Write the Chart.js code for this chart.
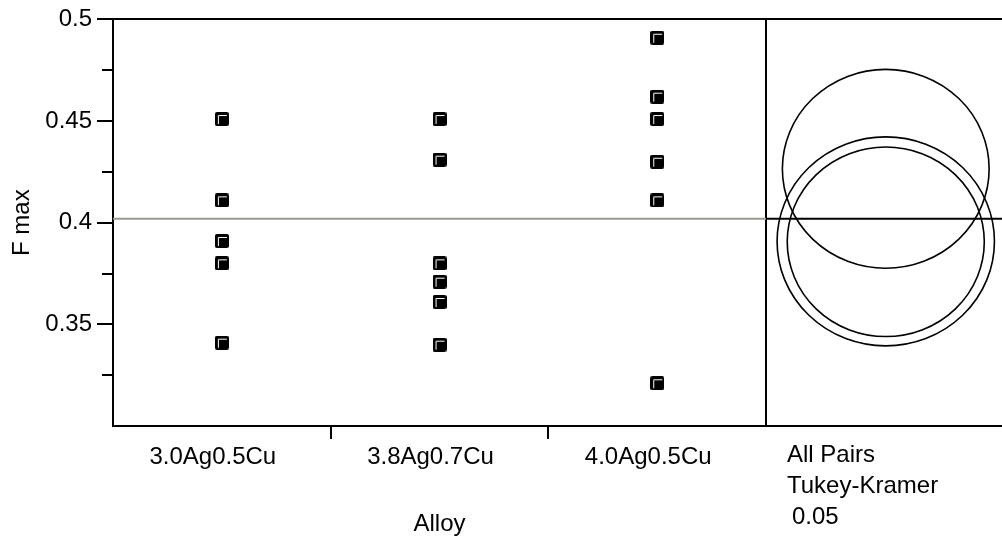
<!DOCTYPE html>
<html>
<head>
<meta charset="utf-8">
<script src="https://cdn.jsdelivr.net/npm/chart.js@4/dist/chart.umd.min.js"></script>
<style>
  html, body { margin: 0; padding: 0; background: #fff; }
  canvas { display: block; }
</style>
</head>
<body>
<canvas id="chart" width="1002" height="542"></canvas>
<script>
// values
const alloys = ["3.0Ag0.5Cu", "3.8Ag0.7Cu", "4.0Ag0.5Cu"];
const fmax30 = [0.451, 0.411, 0.391, 0.380, 0.341];
const fmax38 = [0.451, 0.431, 0.380, 0.371, 0.361, 0.340];
const fmax40 = [0.491, 0.462, 0.451, 0.430, 0.411, 0.321];
const grandMean = 0.402;

// comparison circles (center and radius in F max units)
const circleCenters = [0.3908, 0.3906, 0.4265];
const circleRadii = [0.0514, 0.0466, 0.0489];

const yMajorTicks = [0.35, 0.4, 0.45, 0.5];
const yMinorTicks = [0.325, 0.375, 0.425, 0.475];
const xTicks = [0.5, 1, 1.5, 2, 2.5, 3];
const panelNotes = ["All Pairs", "Tukey-Kramer", "0.05"];

const FONT = "'Liberation Sans', Arial, sans-serif";
const X_MAX = 4.084;  // right edge of the circle panel
const CIRCLE_X = 3.55;

// black square marker with a white inner corner
function makeMarker() {
  const c = document.createElement("canvas");
  c.width = 14;
  c.height = 14;
  const g = c.getContext("2d");
  g.fillStyle = "#000";
  g.beginPath();
  g.roundRect(0, 0, 14, 14, 2);
  g.fill();
  g.strokeStyle = "#fff";
  g.lineWidth = 1;
  g.beginPath();
  g.moveTo(3.5, 12);
  g.lineTo(3.5, 3.5);
  g.lineTo(12, 3.5);
  g.stroke();
  return c;
}
const marker = makeMarker();

function points(values, idx) {
  return values.map((v) => ({ x: idx + 0.5, y: v }));
}

const extras = {
  id: "extras",
  afterDatasetsDraw(chart) {
    const ctx = chart.ctx;
    const xs = chart.scales.x;
    const ys = chart.scales.y;
    ctx.save();
    // comparison circles
    ctx.strokeStyle = "#000";
    ctx.lineWidth = 1.6;
    circleCenters.forEach((c, i) => {
      const cy = ys.getPixelForValue(c);
      const ry = Math.abs(ys.getPixelForValue(c + circleRadii[i]) - cy);
      ctx.beginPath();
      ctx.ellipse(xs.getPixelForValue(CIRCLE_X), cy, ry * 1.04, ry, 0, 0, Math.PI * 2);
      ctx.stroke();
    });
    // minor y ticks
    ctx.lineWidth = 2;
    yMinorTicks.forEach((v) => {
      const y = Math.round(ys.getPixelForValue(v));
      ctx.beginPath();
      ctx.moveTo(ys.right - 11, y);
      ctx.lineTo(ys.right, y);
      ctx.stroke();
    });
    // texts
    ctx.fillStyle = "#000";
    ctx.font = "24px " + FONT;
    ctx.textBaseline = "alphabetic";
    ctx.textAlign = "left";
    ctx.fillText(panelNotes[0], 787, 462);
    ctx.fillText(panelNotes[1], 787, 493);
    ctx.fillText(panelNotes[2], 792, 524);
    ctx.textAlign = "center";
    ctx.fillText("Alloy", (xs.getPixelForValue(0) + xs.getPixelForValue(3)) / 2, 531);
    ctx.restore();
  },
};

new Chart(document.getElementById("chart"), {
  type: "scatter",
  data: {
    datasets: [
      { data: points(fmax30, 0) },
      { data: points(fmax38, 1) },
      { data: points(fmax40, 2) },
      {
        type: "line",
        data: [{ x: 0, y: grandMean }, { x: 3, y: grandMean }],
        borderColor: "#9a9890",
        borderWidth: 2,
        pointRadius: 0,
      },
      {
        type: "line",
        data: [{ x: 3, y: grandMean }, { x: X_MAX, y: grandMean }],
        borderColor: "#000",
        borderWidth: 2,
        pointRadius: 0,
      },
    ],
  },
  options: {
    responsive: false,
    devicePixelRatio: 1,
    animation: false,
    layout: { autoPadding: false, padding: { top: 18, right: 0, bottom: 0, left: 0 } },
    elements: {
      point: { pointStyle: marker, radius: 7, hoverRadius: 7 },
    },
    plugins: {
      legend: { display: false },
      tooltip: { enabled: false },
    },
    scales: {
      x: {
        type: "linear",
        min: 0,
        max: X_MAX,
        afterBuildTicks: (s) => {
          s.ticks = xTicks.map((v) => ({ value: v }));
        },
        afterFit: (s) => {
          s.height = 116;
          s.paddingLeft = 0;
          s.paddingRight = 0;
        },
        ticks: {
          autoSkip: false,
          maxRotation: 0,
          padding: 4,
          labelOffset: -9,
          color: "#000",
          font: { family: FONT, size: 24 },
          callback: (v) => (v % 1 === 0.5 ? alloys[Math.floor(v)] : ""),
        },
        grid: {
          drawOnChartArea: true,
          drawTicks: true,
          tickLength: 13,
          lineWidth: 2,
          color: (c) => (c.tick && c.tick.value === 3 ? "#000" : "rgba(0,0,0,0)"),
          tickColor: (c) =>
            c.tick && (c.tick.value === 1 || c.tick.value === 2) ? "#000" : "rgba(0,0,0,0)",
        },
        border: { display: true, color: "#000", width: 2 },
      },
      y: {
        min: 0.3,
        max: 0.5,
        afterBuildTicks: (s) => {
          s.ticks = yMajorTicks.map((v) => ({ value: v }));
        },
        afterFit: (s) => {
          s.width = 113;
        },
        title: {
          display: true,
          text: "F max",
          color: "#000",
          font: { family: FONT, size: 24 },
          padding: { top: 8, bottom: 0 },
        },
        ticks: {
          padding: 5,
          color: "#000",
          font: { family: FONT, size: 24 },
          callback: (v) => String(Math.round(v * 100) / 100),
        },
        grid: {
          drawOnChartArea: true,
          drawTicks: true,
          tickLength: 16,
          lineWidth: 2,
          color: (c) => (c.tick && c.tick.value === 0.5 ? "#000" : "rgba(0,0,0,0)"),
          tickColor: "#000",
        },
        border: { display: true, color: "#000", width: 2 },
      },
    },
  },
  plugins: [extras],
});
</script>
</body>
</html>
